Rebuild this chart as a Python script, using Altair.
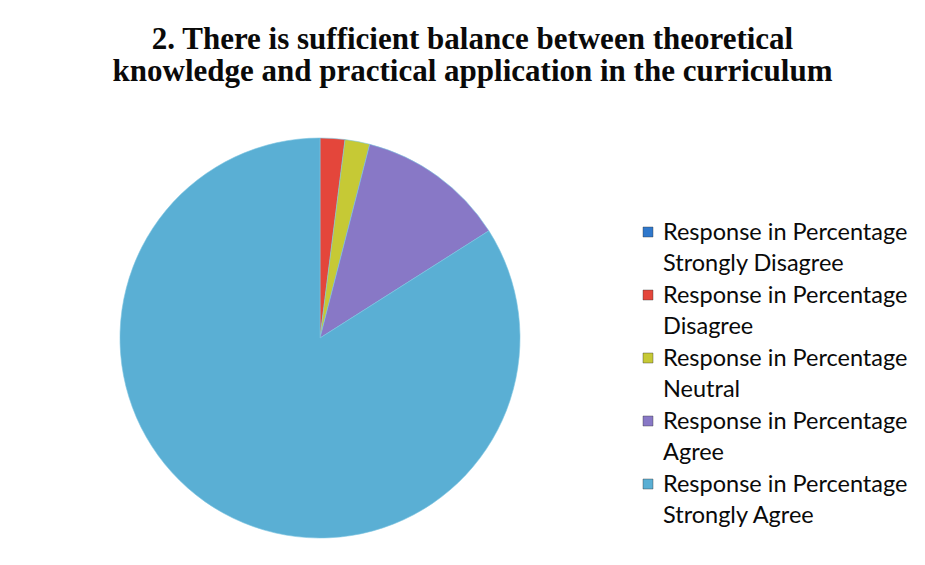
import altair as alt
import pandas as pd

categories = ["Strongly Disagree", "Disagree", "Neutral", "Agree", "Strongly Agree"]
series_name = "Response in Percentage"
values = [0, 2, 2, 12, 84]
order_idx = [0, 1, 2, 3, 4]
colors = ["#2f78cc", "#e4463b", "#c6c935", "#8878c6", "#5aafd4"]

title_lines = [
    "2. There is sufficient balance between theoretical",
    "knowledge and practical application in the curriculum",
]

df = pd.DataFrame({
    "category": categories,
    "value": values,
    "idx": order_idx,
    "label": [series_name + "|" + c for c in categories],
})

color = alt.Color(
    "category:N",
    sort=categories,
    scale=alt.Scale(domain=categories, range=colors),
    legend=None,
)

pie = alt.Chart(df).mark_arc(radius=200, stroke="#7cc4e0", strokeWidth=0.6).encode(
    theta=alt.Theta("value:Q", stack=True),
    order=alt.Order("idx:Q"),
    x=alt.value(312),
    y=alt.value(230),
    color=color,
)

ypos = alt.Y("idx:Q", scale=alt.Scale(domain=[0, 4], range=[124, 376]), axis=None)

leg_sym = alt.Chart(df).mark_square(size=100, opacity=1, stroke="#333333", strokeWidth=0.4).encode(
    x=alt.value(640),
    y=ypos,
    color=color,
)

leg_txt = alt.Chart(df).mark_text(
    align="left", baseline="alphabetic", font="Lato", fontSize=23.5,
    color="#0a0a0a", lineBreak="|", lineHeight=31, dy=8,
).encode(
    x=alt.value(655),
    y=ypos,
    text="label:N",
)

chart = alt.layer(pie, leg_sym, leg_txt).properties(
    width=909,
    height=449,
    autosize=alt.AutoSizeParams(type="none"),
    padding={"top": 100, "left": 0, "right": 0, "bottom": 0},
    title=alt.Title(
        text=title_lines,
        font="Liberation Serif",
        fontSize=31,
        fontWeight="bold",
        color="#0a0a0a",
        anchor="middle",
        frame="group",
        dx=10,
        offset=20,
        lineHeight=32,
    ),
).configure(background="white").configure_view(stroke=None)

chart.save("out.html", embed_options={"renderer": "svg", "actions": False})
